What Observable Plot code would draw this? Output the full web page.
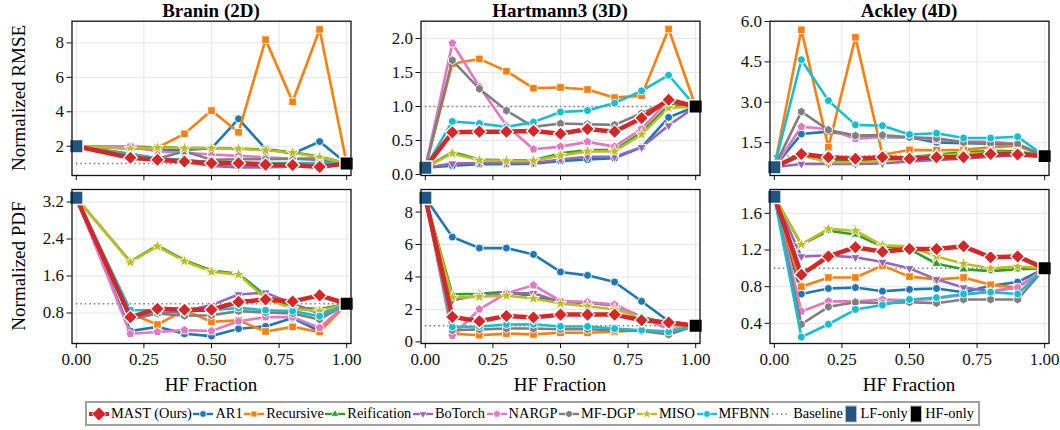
<!DOCTYPE html>
<html>
<head>
<meta charset="utf-8">
<script src="https://cdn.jsdelivr.net/npm/d3@7"></script>
<script src="https://cdn.jsdelivr.net/npm/@observablehq/plot@0.6"></script>
<style>
  html, body { margin: 0; padding: 0; background: #fff; }
  #fig { position: relative; width: 1060px; height: 430px; background: #fff;
         font-family: "Liberation Serif", "DejaVu Serif", serif; color: #000; overflow: hidden; }
  #fig svg.panel { position: absolute; overflow: visible; }
  .title { position: absolute; font-weight: bold; font-size: 19px; line-height: 22px; text-align: center; width: 279px; }
  .xlab { position: absolute; font-size: 19px; text-align: center; width: 279px; }
  .ylab { position: absolute; font-size: 19px; white-space: nowrap; transform: translate(-50%, -50%) rotate(-90deg); }
  #legend { position: absolute; left: 85px; top: 401px; width: 885px; height: 21px;
            border: 2px solid #a0a0a0; display: flex; align-items: center; justify-content: space-between;
            padding: 0 4px 0 2px; box-sizing: content-box; font-size: 14.4px; }
  .item { display: flex; align-items: center; white-space: nowrap; }
  .item svg { margin-right: 2px; }
</style>
</head>
<body>
<div id="fig"></div>
<script>
// Methods, drawn in this order (MAST last so it sits on top)
const methods = ["MAST (Ours)", "AR1", "Recursive", "Reification", "BoTorch", "NARGP", "MF-DGP", "MISO", "MFBNN"];
const colors  = ["#d62728", "#1f77b4", "#ff7f0e", "#2ca02c", "#9467bd", "#e377c2", "#7f7f7f", "#bcbd22", "#17becf"];

// HF fractions evaluated per benchmark
const fracBranin = [0.2, 0.3, 0.4, 0.5, 0.6, 0.7, 0.8, 0.9];
const fracOther  = [0.1, 0.2, 0.3, 0.4, 0.5, 0.6, 0.7, 0.8, 0.9];
const xTicks = [0, 0.25, 0.5, 0.75, 1];

// Reference values at both ends of the fraction axis
const lfOnly = [2.0, 0.10, 0.59, 3.29, 8.88, 1.78];
const hfOnly = [1, 1, 1, 1, 1, 1];
const baseline = 1;

// Normalized RMSE, one row per method (same order as `methods`)
const braninRMSE = [
  [1.33, 1.21, 1.11, 1.01, 1.01, 0.93, 0.91, 0.80],
  [1.88, 1.80, 1.79, 1.88, 3.59, 1.85, 1.56, 2.27],
  [2.00, 1.92, 2.72, 4.07, 2.81, 8.19, 4.58, 8.78],
  [1.87, 1.95, 1.90, 1.90, 1.87, 1.80, 1.65, 1.40],
  [1.55, 1.30, 1.10, 0.86, 0.77, 0.77, 0.82, 0.90],
  [2.00, 1.69, 1.62, 1.52, 1.44, 1.36, 1.27, 1.33],
  [1.56, 1.27, 1.71, 1.21, 1.24, 1.24, 1.27, 1.21],
  [1.85, 1.92, 1.88, 1.88, 1.85, 1.77, 1.62, 1.36],
  [1.50, 1.30, 1.21, 1.07, 1.05, 1.03, 1.03, 1.02]
];
const hartmannRMSE = [
  [0.62, 0.63, 0.63, 0.64, 0.60, 0.67, 0.63, 0.83, 1.10],
  [0.13, 0.15, 0.15, 0.16, 0.20, 0.22, 0.24, 0.40, 0.84],
  [1.63, 1.70, 1.52, 1.27, 1.28, 1.25, 1.13, 1.16, 2.14],
  [0.33, 0.22, 0.21, 0.21, 0.31, 0.36, 0.36, 0.62, 1.02],
  [0.16, 0.17, 0.17, 0.17, 0.22, 0.26, 0.26, 0.40, 0.72],
  [1.93, 1.29, 0.72, 0.37, 0.41, 0.48, 0.41, 0.67, 1.09],
  [1.68, 1.26, 0.94, 0.70, 0.75, 0.74, 0.73, 0.90, 1.08],
  [0.31, 0.21, 0.20, 0.20, 0.28, 0.34, 0.34, 0.59, 0.98],
  [0.78, 0.75, 0.70, 0.77, 0.92, 0.94, 1.05, 1.23, 1.46]
];
const ackleyRMSE = [
  [1.08, 0.96, 0.90, 0.96, 0.90, 0.96, 0.96, 1.08, 1.06],
  [1.82, 1.91, 1.76, 1.70, 1.70, 1.51, 1.48, 1.46, 1.39],
  [5.69, 1.33, 5.41, 1.05, 1.23, 1.22, 1.23, 1.33, 1.39],
  [1.02, 0.81, 0.83, 0.86, 0.96, 1.06, 1.14, 1.20, 1.18],
  [0.71, 0.71, 0.71, 0.73, 0.80, 0.86, 0.90, 0.98, 1.02],
  [2.09, 2.00, 1.64, 1.72, 1.70, 1.60, 1.54, 1.54, 1.45],
  [2.65, 1.97, 1.76, 1.78, 1.70, 1.66, 1.51, 1.48, 1.45],
  [1.02, 0.77, 0.77, 0.83, 0.93, 1.02, 1.08, 1.14, 1.10],
  [4.58, 3.06, 2.16, 2.13, 1.80, 1.85, 1.67, 1.67, 1.72]
];

// Normalized PDF error, one row per method
const braninPDF = [
  [0.71, 0.89, 0.87, 0.87, 1.04, 1.09, 1.05, 1.18],
  [0.41, 0.50, 0.35, 0.30, 0.46, 0.51, 0.69, 0.41],
  [0.79, 0.55, 0.86, 0.61, 0.64, 0.40, 0.50, 0.39],
  [1.91, 2.26, 1.94, 1.72, 1.65, 1.18, 0.93, 0.88],
  [0.68, 0.79, 0.84, 0.97, 1.20, 1.24, 1.00, 0.79],
  [0.35, 0.39, 0.43, 0.41, 0.62, 0.71, 0.71, 0.48],
  [0.66, 0.79, 0.74, 0.75, 0.84, 0.81, 0.79, 0.66],
  [1.90, 2.24, 1.92, 1.69, 1.63, 1.11, 0.89, 0.84],
  [0.86, 0.86, 0.87, 0.86, 0.91, 0.86, 0.84, 0.73]
];
const hartmannPDF = [
  [1.54, 1.27, 1.60, 1.50, 1.68, 1.68, 1.68, 1.33, 1.19],
  [6.46, 5.78, 5.78, 5.39, 4.31, 4.10, 3.69, 2.50, 1.27],
  [0.51, 0.41, 0.51, 0.46, 0.56, 0.56, 0.62, 0.72, 0.65],
  [2.93, 2.97, 3.08, 2.80, 2.52, 2.43, 2.26, 1.54, 1.13],
  [2.56, 2.87, 3.00, 3.00, 2.46, 2.40, 2.26, 1.54, 1.08],
  [0.37, 2.01, 3.00, 3.49, 2.52, 2.45, 2.30, 1.54, 0.76],
  [0.72, 0.77, 0.82, 0.82, 0.78, 0.78, 0.72, 0.67, 0.45],
  [2.73, 2.78, 2.85, 2.67, 2.36, 2.20, 2.01, 1.50, 1.03],
  [0.92, 0.95, 1.07, 1.09, 0.95, 0.95, 0.82, 0.72, 0.62]
];
const ackleyPDF = [
  [0.93, 1.13, 1.23, 1.18, 1.21, 1.21, 1.24, 1.12, 1.13],
  [0.72, 0.78, 0.79, 0.75, 0.77, 0.78, 0.74, 0.81, 0.85],
  [0.80, 0.90, 0.90, 1.03, 0.91, 0.88, 0.90, 0.82, 0.79],
  [1.26, 1.41, 1.37, 1.24, 1.21, 1.05, 0.99, 0.97, 0.99],
  [1.13, 1.14, 1.12, 1.07, 1.00, 0.88, 0.79, 0.75, 0.79],
  [0.53, 0.64, 0.64, 0.66, 0.65, 0.67, 0.71, 0.75, 0.79],
  [0.39, 0.58, 0.63, 0.62, 0.63, 0.62, 0.66, 0.66, 0.66],
  [1.26, 1.43, 1.41, 1.25, 1.24, 1.13, 1.05, 1.00, 1.02],
  [0.25, 0.39, 0.55, 0.60, 0.66, 0.68, 0.72, 0.74, 0.72]
];

// Marker shapes
function polygon(n, rot, k) {
  return { draw(ctx, size) {
    const r = Math.sqrt(size / Math.PI) * k;
    for (let i = 0; i < n; i++) {
      const a = rot + 2 * Math.PI * i / n;
      const x = r * Math.sin(a), y = -r * Math.cos(a);
      if (i) ctx.lineTo(x, y); else ctx.moveTo(x, y);
    }
    ctx.closePath();
  } };
}
const symbols = ["diamond2", "circle", "square", polygon(3, 0, 1.35), polygon(3, Math.PI, 1.35),
                 polygon(5, 0, 1.15), polygon(6, 0, 1.1), "star", "circle"];
const radii   = [6.3, 4, 4.3, 4, 4, 4, 4, 4.1, 4];
const widths  = [4.5, 2.6, 2.6, 2.6, 2.6, 2.6, 2.6, 2.6, 2.6];
const drawOrder = [1, 2, 3, 4, 5, 6, 7, 8, 0];

const panels = [
  {title: "Branin (2D)",    row: 0, col: 0, xs: fracBranin, data: braninRMSE,   domain: [0.30, 9.26], ticks: [2, 4, 6, 8], fmt: "d"},
  {title: "Hartmann3 (3D)", row: 0, col: 1, xs: fracOther,  data: hartmannRMSE, domain: [-0.015, 2.255], ticks: [0, 0.5, 1, 1.5, 2], fmt: ".1f"},
  {title: "Ackley (4D)",    row: 0, col: 2, xs: fracOther,  data: ackleyRMSE,   domain: [0.28, 6.01], ticks: [1.5, 3, 4.5, 6], fmt: ".1f"},
  {title: null,             row: 1, col: 0, xs: fracBranin, data: braninPDF,    domain: [0.14, 3.47], ticks: [0.8, 1.6, 2.4, 3.2], fmt: ".1f"},
  {title: null,             row: 1, col: 1, xs: fracOther,  data: hartmannPDF,  domain: [-0.10, 9.39], ticks: [0, 2, 4, 6, 8], fmt: "d"},
  {title: null,             row: 1, col: 2, xs: fracOther,  data: ackleyPDF,    domain: [0.18, 1.86], ticks: [0.4, 0.8, 1.2, 1.6], fmt: ".1f"}
];

const fig = document.getElementById("fig");
const frameW = 279, colStep = 349, frameLeft0 = 71.5;
const rowTop = [0, 185];
const rowMargins = [{top: 20.7, bottom: 10}, {top: 4, bottom: 27}];
const lfColor = "#1f5580";

panels.forEach((p, pi) => {
  const lf = lfOnly[pi], hf = hfOnly[pi];
  const seriesPts = p.data.map(vals => [{x: 0, y: lf}, ...p.xs.map((x, j) => ({x, y: vals[j]})), {x: 1, y: hf}]);
  const marks = [
    Plot.gridX(xTicks, {stroke: "#e6e6e6", strokeOpacity: 1, strokeWidth: 1}),
    Plot.gridY(p.ticks, {stroke: "#e6e6e6", strokeOpacity: 1, strokeWidth: 1}),
    Plot.ruleY([baseline], {x1: 0, x2: 1, stroke: "#7a7a7a", strokeWidth: 1.5, strokeDasharray: "1.5,3"})
  ];
  for (const i of drawOrder) {
    const pts = seriesPts[i];
    marks.push(Plot.line(pts, {x: "x", y: "y", stroke: colors[i], strokeWidth: widths[i], strokeLinejoin: "round"}));
    marks.push(Plot.dot(pts.slice(1, -1), {x: "x", y: "y", symbol: symbols[i], r: radii[i], fill: colors[i], stroke: "white", strokeWidth: i === 0 ? 1.3 : 0.9}));
  }
  marks.push(Plot.dot([{x: 0, y: lf}], {x: "x", y: "y", symbol: "square", r: 7.6, fill: lfColor, stroke: "white", strokeWidth: 1.5}));
  marks.push(Plot.dot([{x: 1, y: hf}], {x: "x", y: "y", symbol: "square", r: 7.6, fill: "black", stroke: "white", strokeWidth: 1.5}));
  marks.push(Plot.frame({stroke: "#111", strokeWidth: 1.3}));
  marks.push(Plot.axisX(xTicks, {tickSize: 5, tickPadding: 4, label: null,
    tickFormat: p.row === 1 ? d3.format(".2f") : () => ""}));
  marks.push(Plot.axisY(p.ticks, {tickSize: 5, tickPadding: 3, label: null, tickFormat: d3.format(p.fmt)}));

  const m = rowMargins[p.row];
  const svg = Plot.plot({
    width: 360, height: 185,
    marginLeft: frameLeft0, marginRight: 360 - frameLeft0 - frameW,
    marginTop: m.top, marginBottom: m.bottom,
    style: {fontFamily: "'Liberation Serif', serif", fontSize: "17px", background: "transparent", color: "#111"},
    x: {domain: [-0.016, 1.016]},
    y: {domain: p.domain},
    marks
  });
  svg.classList.add("panel");
  svg.style.left = (p.col * colStep) + "px";
  svg.style.top = rowTop[p.row] + "px";
  fig.appendChild(svg);

  const fl = p.col * colStep + frameLeft0;
  if (p.title) {
    const t = document.createElement("div");
    t.className = "title"; t.textContent = p.title;
    t.style.left = fl + "px"; t.style.top = "0px";
    fig.appendChild(t);
  }
  if (p.row === 1) {
    const xl = document.createElement("div");
    xl.className = "xlab"; xl.textContent = "HF Fraction";
    xl.style.left = fl + "px"; xl.style.top = "374px";
    fig.appendChild(xl);
  }
});

// Row labels
[["Normalized RMSE", 98], ["Normalized PDF", 266]].forEach(([txt, cy]) => {
  const d = document.createElement("div");
  d.className = "ylab"; d.textContent = txt;
  d.style.left = "19px"; d.style.top = cy + "px";
  fig.appendChild(d);
});

// Legend
const legend = document.createElement("div");
legend.id = "legend";
function swatch(i) {
  const w = 20, h = 16;
  const svg = d3.create("svg").attr("width", w).attr("height", h);
  svg.append("line").attr("x1", 0).attr("x2", w).attr("y1", h / 2).attr("y2", h / 2)
    .attr("stroke", colors[i]).attr("stroke-width", i === 0 ? 4 : 2.4);
  const sym = typeof symbols[i] === "string"
    ? {diamond2: d3.symbolDiamond2, circle: d3.symbolCircle, square: d3.symbolSquare, star: d3.symbolStar}[symbols[i]]
    : symbols[i];
  const r = i === 0 ? 6.3 : 3.4;
  svg.append("path").attr("d", d3.symbol(sym, Math.PI * r * r)()).attr("transform", `translate(${w / 2},${h / 2})`)
    .attr("fill", colors[i]).attr("stroke", "white").attr("stroke-width", 0.8);
  return svg.node();
}
function addItem(node, label) {
  const it = document.createElement("div");
  it.className = "item";
  it.appendChild(node);
  const s = document.createElement("span"); s.textContent = label;
  it.appendChild(s);
  legend.appendChild(it);
}
methods.forEach((name, i) => addItem(swatch(i), name));
{
  const svg = d3.create("svg").attr("width", 20).attr("height", 16);
  svg.append("line").attr("x1", 1).attr("x2", 19).attr("y1", 8).attr("y2", 8)
    .attr("stroke", "#7a7a7a").attr("stroke-width", 1.5).attr("stroke-dasharray", "1.5,3");
  addItem(svg.node(), "Baseline");
}
[[lfColor, "LF-only"], ["black", "HF-only"]].forEach(([c, name]) => {
  const svg = d3.create("svg").attr("width", 14).attr("height", 18);
  svg.append("rect").attr("x", 1.5).attr("y", 1).attr("width", 11).attr("height", 16)
    .attr("fill", c).attr("stroke", "#bbb").attr("stroke-width", 1);
  addItem(svg.node(), name);
});
fig.appendChild(legend);
</script>
</body>
</html>
